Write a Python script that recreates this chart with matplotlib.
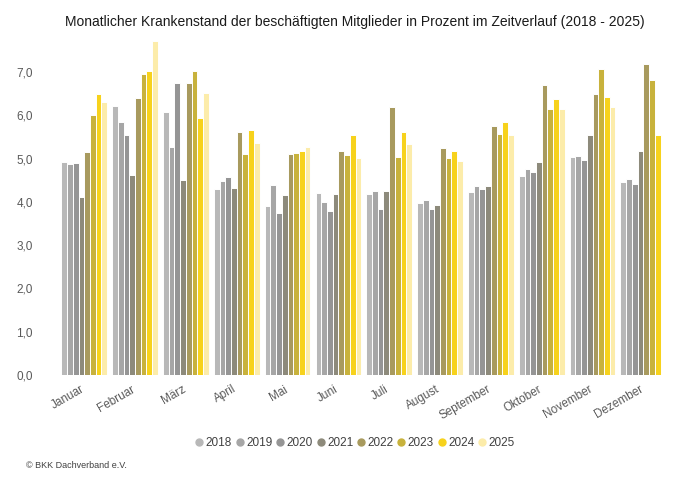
import numpy as np
import matplotlib.pyplot as plt
from matplotlib.lines import Line2D

plt.rcParams['font.family'] = ['Liberation Sans', 'DejaVu Sans']

months = ['Januar', 'Februar', 'März', 'April', 'Mai', 'Juni', 'Juli',
          'August', 'September', 'Oktober', 'November', 'Dezember']
years = ['2018', '2019', '2020', '2021', '2022', '2023', '2024', '2025']

# Krankenstand in Prozent, je Jahr (Jan..Dez)
v2018 = [4.92, 6.22, 6.08, 4.31, 3.90, 4.20, 4.18, 3.97, 4.22, 4.59, 5.03, 4.47]
v2019 = [4.88, 5.84, 5.27, 4.48, 4.39, 4.01, 4.25, 4.05, 4.37, 4.76, 5.07, 4.53]
v2020 = [4.90, 5.56, 6.75, 4.58, 3.75, 3.78, 3.83, 3.84, 4.29, 4.70, 4.96, 4.42]
v2021 = [4.12, 4.62, 4.50, 4.32, 4.17, 4.18, 4.26, 3.93, 4.37, 4.92, 5.55, 5.18]
v2022 = [5.15, 6.41, 6.75, 5.61, 5.10, 5.18, 6.19, 5.24, 5.76, 6.71, 6.50, 7.18]
v2023 = [6.00, 6.96, 7.03, 5.11, 5.13, 5.08, 5.04, 5.01, 5.57, 6.14, 7.08, 6.82]
v2024 = [6.50, 7.02, 5.94, 5.66, 5.18, 5.55, 5.62, 5.18, 5.84, 6.39, 6.43, 5.56]
v2025 = [6.31, 7.72, 6.51, 5.37, 5.27, 5.02, 5.33, 4.95, 5.54, 6.15, 6.19, np.nan]

series = [v2018, v2019, v2020, v2021, v2022, v2023, v2024, v2025]
colors = ['#b8b8b8', '#a6a6a6', '#959595', '#8d8a7b',
          '#a89a5e', '#c8b23c', '#f7d21c', '#fcecaa']

fig = plt.figure(figsize=(6.8, 4.8), dpi=100)
ax = fig.add_axes([0.085, 0.219, 0.9, 0.698])

x = np.arange(len(months))
n = len(series)
w = 0.9 / n
for i, vals in enumerate(series):
    ax.bar(x - 0.45 + w * (i + 0.5), vals, width=w, color=colors[i],
           edgecolor='white', linewidth=0.7)

ax.set_xlim(-0.52, len(months) - 0.48)
ax.set_ylim(0, 7.75)
ax.set_yticks(np.arange(0, 8))
ax.set_yticklabels([f'{t:.1f}'.replace('.', ',') for t in range(8)])
ax.set_xticks(x - 0.08)
ax.set_xticklabels(months, rotation=30, ha='right', rotation_mode='anchor')
ax.tick_params(length=0, labelsize=8.5, colors='#595959')
ax.tick_params(axis='y', pad=18)
ax.tick_params(axis='x', pad=6)
for s in ax.spines.values():
    s.set_visible(False)

fig.text(0.522, 0.955, 'Monatlicher Krankenstand der beschäftigten Mitglieder in Prozent im Zeitverlauf (2018 - 2025)',
         ha='center', va='center', fontsize=10, color='#1a1a1a')

handles = [Line2D([], [], marker='o', linestyle='', markersize=5,
                  markerfacecolor=c, markeredgecolor=c) for c in colors]
fig.legend(handles, years, loc='center', bbox_to_anchor=(0.522, 0.077), ncol=8,
           frameon=False, fontsize=8.5, handlelength=0.7, handletextpad=0.2,
           columnspacing=0.3, labelcolor='#404040')

fig.text(0.038, 0.03, '© BKK Dachverband e.V.', fontsize=6.5, color='#404040',
         va='center')

fig.savefig('out.png', dpi=100)
